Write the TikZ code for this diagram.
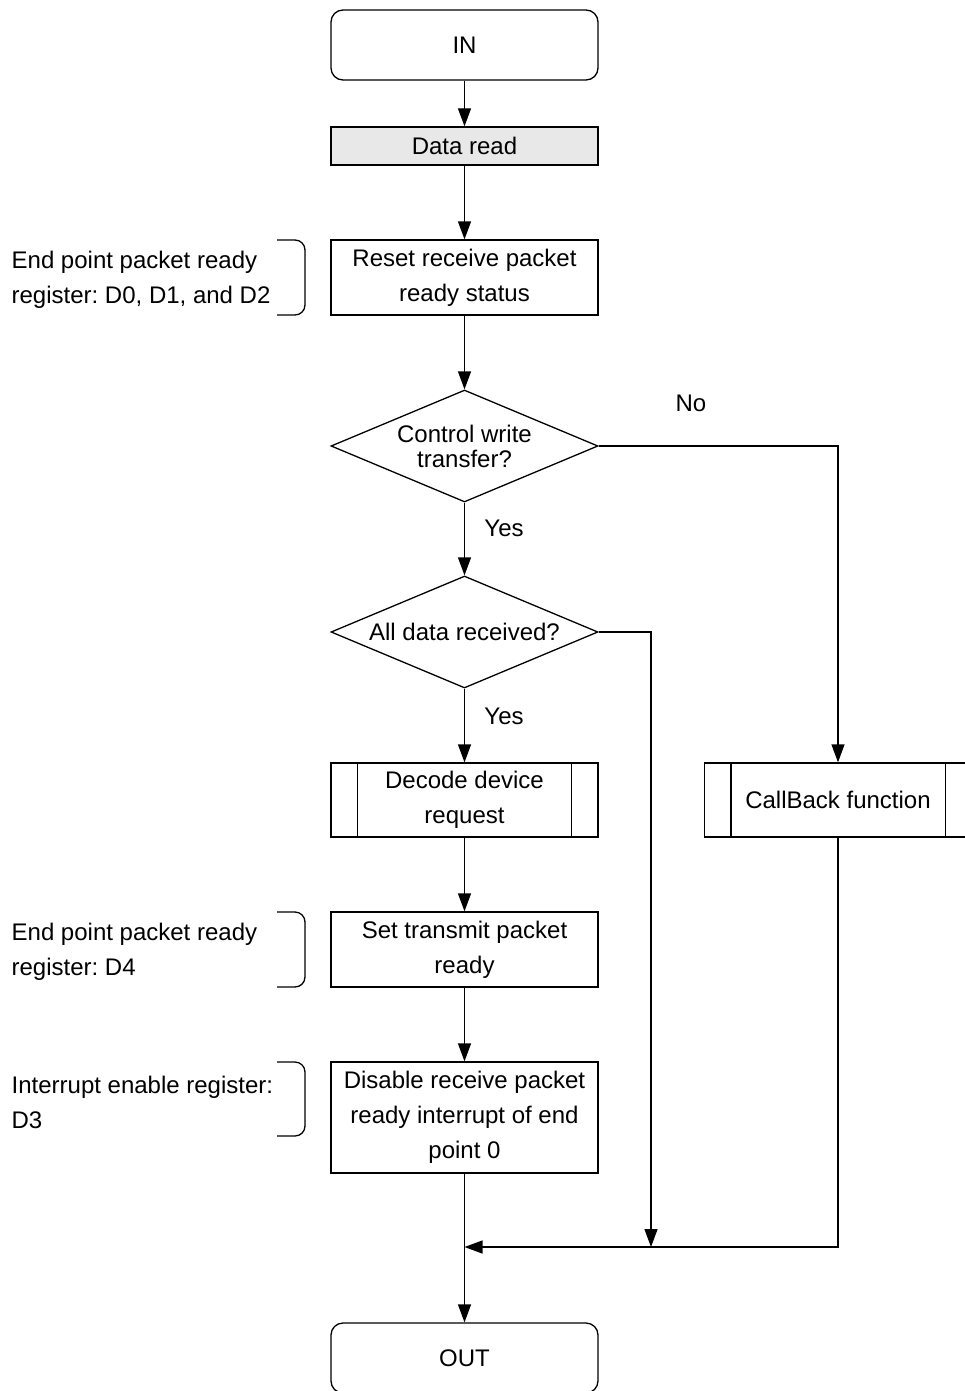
\documentclass[tikz,border=0pt]{standalone}
\usepackage{fontspec}
\setmainfont{Liberation Sans}
\usetikzlibrary{shapes.geometric,arrows.meta}
\frenchspacing
\begin{document}
\begin{tikzpicture}[x=1pt,y=-1pt,line width=1.3pt,
    every node/.style={font=\fontsize{24}{35}\selectfont,inner sep=0pt},
    arr/.style={-{Triangle[length=18pt,width=13pt]}},
    box/.style={draw,rectangle,minimum width=267pt,align=center},
    term/.style={box,rounded corners=12pt,minimum height=70pt},
    decision/.style={draw,diamond,aspect=2.4,minimum width=267pt,
      minimum height=112pt,align=center,font=\fontsize{24}{25}\selectfont},
    note/.style={anchor=west,align=left}]
  \useasboundingbox (0,0) rectangle (965,1391);
  \node[term] (in) at (464.5,45) {IN};
  \node[box,fill=gray!18,minimum height=38pt] (read) at (464.5,146) {Data read};
  \node[box,minimum height=75pt] (reset) at (464.5,277.5)
  {Reset receive packet\\ready status};
  \node[decision] (ctrl) at (464.5,446) {Control write\\transfer?};
  \node[decision] (all) at (464.5,632) {All data received?};
  \node[box,minimum height=74pt] (decode) at (464.5,800)
  {Decode device\\request};
  \node[box,minimum height=74pt] (callback) at (838,800) {CallBack function};
  \node[box,minimum height=75pt] (settx) at (464.5,949.5)
  {Set transmit packet\\ready};
  \node[box,minimum height=111pt] (disable) at (464.5,1117.5)
  {Disable receive packet\\ready interrupt of end\\point 0};
  \node[term] (out) at (464.5,1358) {OUT};
  \foreach \n in {decode,callback}
  \draw ([xshift=27pt]\n.north west) -- ([xshift=27pt]\n.south west)
  ([xshift=-27pt]\n.north east) -- ([xshift=-27pt]\n.south east);
  \node (no) at (691,403) {No};
  \node (yes1) at (504,528) {Yes};
  \node (yes2) at (504,716) {Yes};
  \node[note] (n1) at (11,280) {End point packet ready\\register: D0, D1, and D2};
  \node[note] (n2) at (11,952) {End point packet ready\\register: D4};
  \node[note] (n3) at (11,1102) {Interrupt enable register:\\D3};
  \foreach \a/\b in {240/315,912/987,1062/1136}
  \draw[rounded corners=10pt] (277,\a) -- (305,\a) -- (305,\b) -- (277,\b);
  \coordinate (j1) at (464.5,1247);
  \coordinate (j2) at (651,1247);
  \draw[arr] (in) -- (read);
  \draw[arr] (read) -- (reset);
  \draw[arr] (reset) -- (ctrl);
  \draw[arr] (ctrl) -- (all);
  \draw[arr] (all) -- (decode);
  \draw[arr] (decode) -- (settx);
  \draw[arr] (settx) -- (disable);
  \draw[arr] (disable) -- (out);
  \draw[arr] (ctrl.east) -| (callback.north);
  \draw[arr] (all.east) -| (j2);
  \draw[arr] (callback.south) |- (j1);
\end{tikzpicture}
\end{document}
